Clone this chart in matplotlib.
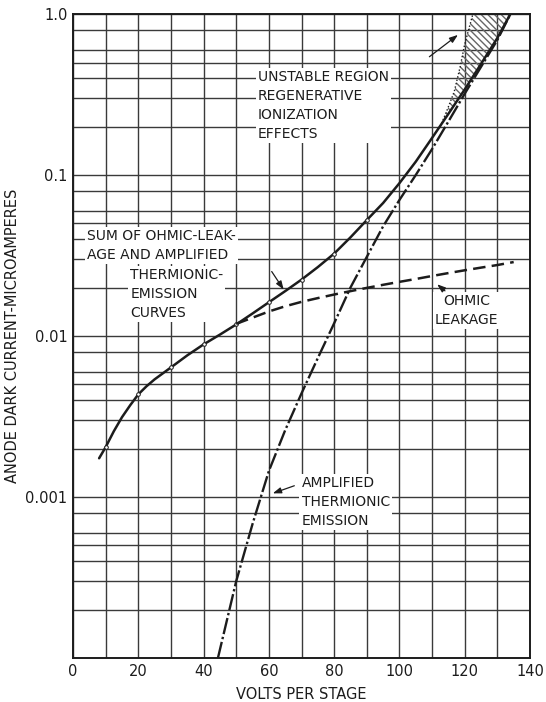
import numpy as np
import matplotlib
matplotlib.use("Agg")
import matplotlib.pyplot as plt
from matplotlib.ticker import FixedLocator, FixedFormatter, NullFormatter

# values (volts per stage, microamperes)
sum_volts = [8, 10, 12.5, 15, 17.5, 20, 22.5, 25, 30, 35, 40, 45, 50, 55, 60, 65,
             70, 75, 80, 85, 90, 95, 100, 105, 110, 115, 120, 125, 130, 134]
sum_current = [0.00174, 0.00204, 0.00256, 0.00313, 0.00371, 0.00434, 0.00487,
               0.00538, 0.00638, 0.00758, 0.00887, 0.0102, 0.0118, 0.0138, 0.0162,
               0.019, 0.0224, 0.0268, 0.0325, 0.041, 0.0525, 0.067, 0.089, 0.121,
               0.17, 0.24, 0.34, 0.49, 0.71, 1.0]

mark_volts = [10, 20, 30, 40, 50, 60, 70, 80, 90]
mark_current = [0.00204, 0.00434, 0.00638, 0.00887, 0.0118, 0.0162, 0.0224, 0.0325,
                0.0525]

ohmic_volts = [50, 55, 60, 65, 70, 75, 80, 85, 90, 95, 100, 105, 110, 115, 120,
               125, 130, 135]
ohmic_current = [0.0119, 0.0130, 0.0142, 0.0153, 0.0163, 0.0172, 0.0181, 0.0190,
                 0.0199, 0.0208, 0.0217, 0.0226, 0.0236, 0.0246, 0.0256, 0.0266,
                 0.0276, 0.0288]

therm_volts = [44.4, 50, 55, 60, 65, 70, 75, 80, 85, 90, 95, 100, 105, 110, 115,
               120, 125, 130, 134]
therm_current = [0.0001, 0.0003, 0.00068, 0.00145, 0.0026, 0.0044, 0.0073, 0.012,
                 0.02, 0.031, 0.048, 0.07, 0.1, 0.145, 0.215, 0.32, 0.47, 0.69, 1.0]

# unstable region: dotted edge vs. sum curve, at the same current levels
unstable_current = [0.2, 0.25, 0.33, 0.47, 0.65, 1.0]
unstable_left = [112.5, 114.5, 116.8, 118.6, 120.0, 122.5]
unstable_right = [112.5, 115.3, 119.7, 124.6, 128.5, 134.0]

y_ticks = [0.001, 0.01, 0.1, 1.0]
y_labels = ["0.001", "0.01", "0.1", "1.0"]
x_ticks = [0, 20, 40, 60, 80, 100, 120, 140]

ink = "#1c1c1c"
grid_ink = "#3a3a3a"
font = "DejaVu Sans"

fig = plt.figure(figsize=(5.46, 7.02), dpi=100)
ax = fig.add_axes([0.1337, 0.0627, 0.837, 0.9173])
ax.set_yscale("log")
ax.set_xlim(0, 140)
ax.set_ylim(1e-4, 1.0)

# graph-paper grid
ax.xaxis.set_major_locator(FixedLocator(x_ticks))
ax.xaxis.set_minor_locator(FixedLocator(list(range(10, 140, 20))))
minor_y = [m * 10.0 ** e for e in range(-4, 0) for m in (2, 3, 4, 5, 6, 8)]
ax.yaxis.set_major_locator(FixedLocator(y_ticks))
ax.yaxis.set_major_formatter(FixedFormatter(y_labels))
ax.yaxis.set_minor_locator(FixedLocator(minor_y))
ax.yaxis.set_minor_formatter(NullFormatter())
ax.grid(True, which="both", color=grid_ink, linewidth=1.0)
ax.set_axisbelow(True)
ax.tick_params(which="both", length=0, labelsize=10.5, colors=ink, pad=4)
for s in ax.spines.values():
    s.set_linewidth(1.4)
    s.set_color(ink)

# curves
ax.plot(sum_volts, sum_current, color=ink, lw=1.8, solid_capstyle="round")
ax.plot(mark_volts, mark_current, ls="none", marker="o", ms=2.6, mfc="white",
        mec=ink, mew=0.7)
ax.plot(ohmic_volts, ohmic_current, color=ink, lw=1.8, ls=(0, (5, 2.5)))
ax.plot(therm_volts, therm_current, color=ink, lw=1.7, ls=(0, (7, 1.2, 1, 1.2)))

ax.fill_betweenx(unstable_current, unstable_left, unstable_right, facecolor="none",
                 edgecolor="#666666", hatch="\\\\\\\\\\", linewidth=0)
ax.plot(unstable_left, unstable_current, color=ink, lw=1.0, ls=(0, (1, 1.5)))

# labels, on white patches that break the grid like the original
box = dict(facecolor="white", edgecolor="none", pad=1.5)
text_kw = dict(fontsize=10, color=ink, family=font, linespacing=1.45, bbox=box)
ax.text(56.7, 0.45, "UNSTABLE REGION\nREGENERATIVE\nIONIZATION\nEFFECTS",
        ha="left", va="top", **text_kw)
ax.text(4.2, 0.046, "SUM OF OHMIC-LEAK-\nAGE AND AMPLIFIED", ha="left", va="top",
        **text_kw)
ax.text(17.5, 0.0265, "THERMIONIC-\nEMISSION\nCURVES", ha="left", va="top", **text_kw)
ax.text(120.5, 0.0182, "OHMIC\nLEAKAGE", ha="center", va="top", **text_kw)
ax.text(70.0, 0.00135, "AMPLIFIED\nTHERMIONIC\nEMISSION", ha="left", va="top",
        **text_kw)

arrow_kw = dict(arrowstyle="-|>,head_length=0.5,head_width=0.18", color=ink, lw=0.9)
ax.annotate("", xy=(118.6, 0.76), xytext=(108.5, 0.53), arrowprops=arrow_kw)
ax.annotate("", xy=(65.0, 0.0188), xytext=(60.4, 0.026), arrowprops=arrow_kw)
ax.annotate("", xy=(110.9, 0.0215), xytext=(114.6, 0.0186), arrowprops=arrow_kw)
ax.annotate("", xy=(60.4, 0.00104), xytext=(68.6, 0.00119), arrowprops=arrow_kw)

ax.set_xlabel("VOLTS PER STAGE", fontsize=10.5, color=ink, family=font, labelpad=6)
ax.set_ylabel("ANODE DARK CURRENT-MICROAMPERES", fontsize=10.5, color=ink,
              family=font, labelpad=4)

fig.savefig("out.png", dpi=100, facecolor="white")
